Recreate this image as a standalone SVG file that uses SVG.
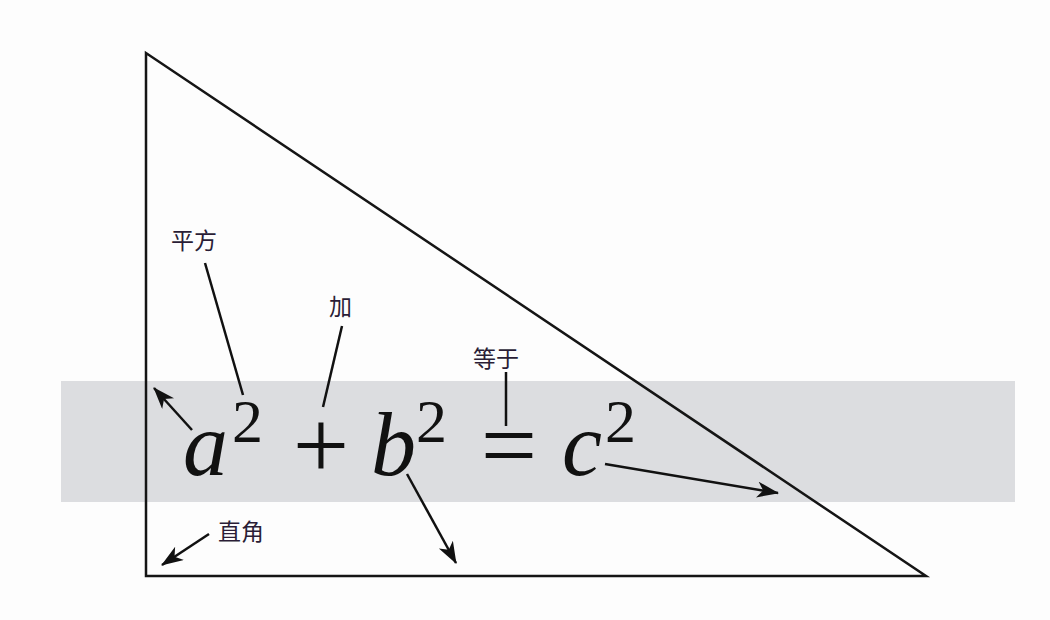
<svg xmlns="http://www.w3.org/2000/svg" width="1050" height="620" viewBox="0 0 1050 620">
<style>
.math{font-family:"Liberation Serif","Times New Roman",serif;fill:#111;}
.it{font-style:italic;font-size:90px;}
.sup{font-size:62px;}
.op{font-size:100px;text-anchor:middle;}
.lbl{font-family:"Noto Sans CJK SC","Noto Sans",sans-serif;font-size:23px;fill:#2a1d36;}
.lead{stroke:#111;stroke-width:2.5;fill:none;}
.arr{stroke:#111;stroke-width:2.5;fill:none;marker-end:url(#ah);}
</style>
<defs>
<marker id="ah" markerUnits="userSpaceOnUse" markerWidth="24" markerHeight="18" refX="21" refY="8" orient="auto">
<path d="M0,0 L22,8 L0,16 L6,8 z" fill="#111"/>
</marker>
</defs>
<rect width="1050" height="620" fill="#fdfdfd"/>
<rect id="band" x="61" y="381" width="954" height="121" fill="#dcdde0"/>
<g id="triangle">
<polygon points="146,53 146,576 926,576" fill="none" stroke="#151515" stroke-width="2.5" stroke-linejoin="miter"/>
</g>
<g id="formula">
<text class="math it" x="183" y="475">a</text>
<text class="math sup" x="232" y="442">2</text>
<text class="math op" x="321" y="479">+</text>
<text class="math it" x="371" y="475">b</text>
<text class="math sup" x="416" y="442">2</text>
<text class="math op" x="509" y="479">=</text>
<text class="math it" x="562" y="475">c</text>
<text class="math sup" x="605" y="442">2</text>
</g>
<g id="label-square"><text class="lbl" x="171" y="249">平方</text></g>
<g id="label-plus"><text class="lbl" x="329" y="315">加</text></g>
<g id="label-equal"><text class="lbl" x="473" y="367">等于</text></g>
<g id="label-right-angle"><text class="lbl" x="218" y="540">直角</text></g>
<g id="connectors">
<line class="lead" x1="205" y1="263" x2="243" y2="395"/>
<line class="lead" x1="342" y1="326" x2="323" y2="407"/>
<line class="lead" x1="506" y1="372" x2="506" y2="426"/>
<line class="arr" x1="192" y1="430" x2="154" y2="388"/>
<line class="arr" x1="209" y1="534" x2="162" y2="565"/>
<line class="arr" x1="407" y1="474" x2="456" y2="563"/>
<line class="arr" x1="605" y1="464" x2="778" y2="493"/>
</g>
</svg>
